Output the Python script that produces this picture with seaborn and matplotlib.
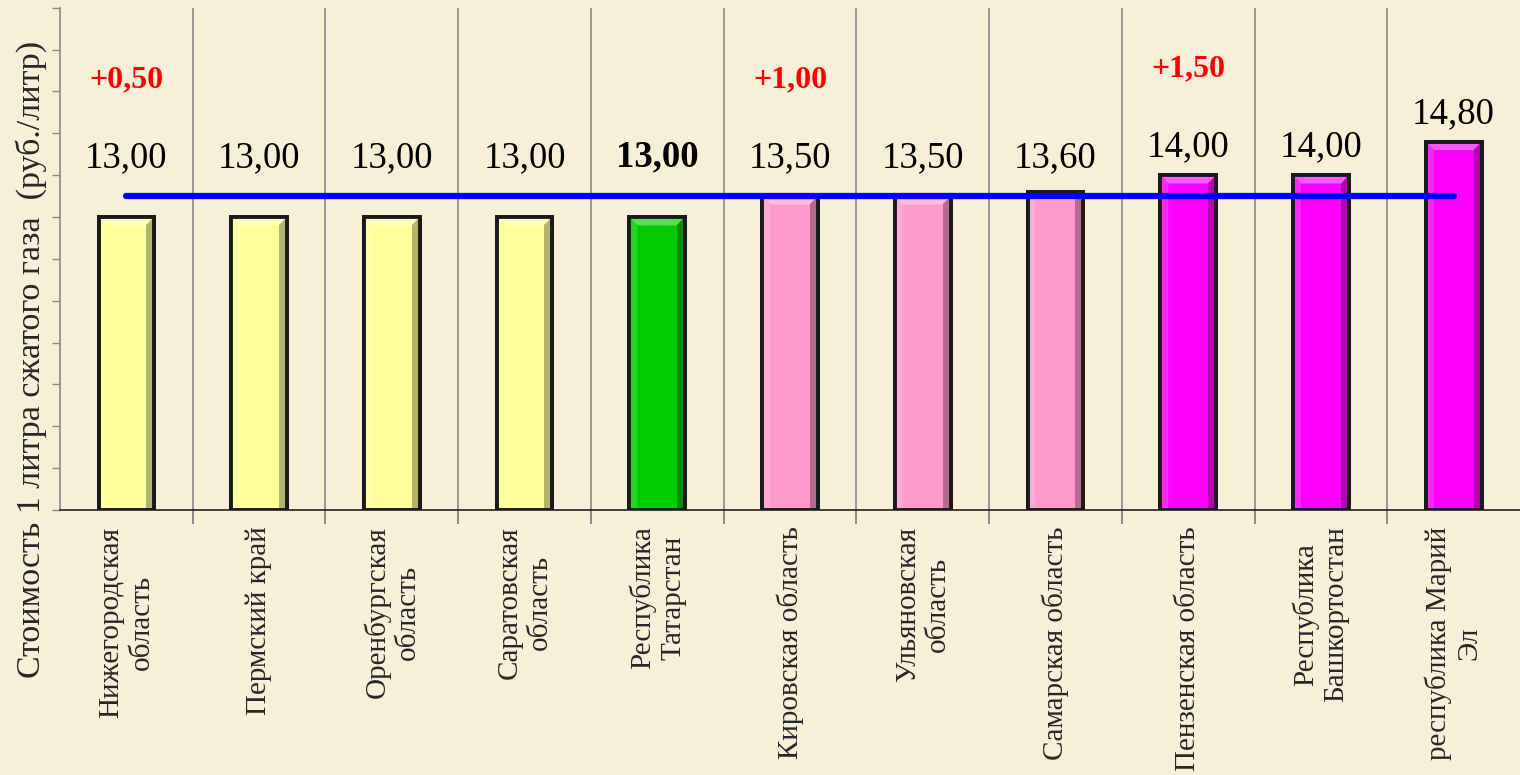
import matplotlib
matplotlib.use('Agg')
import matplotlib.pyplot as plt
from matplotlib.patches import Polygon
from matplotlib.colors import to_rgb
import seaborn as sns
import numpy as np
import pandas as pd

regions = ['Нижегородская\nобласть', 'Пермский край', 'Оренбургская\nобласть',
           'Саратовская\nобласть', 'Республика\nТатарстан', 'Кировская область',
           'Ульяновская\nобласть', 'Самарская область', 'Пензенская область',
           'Республика\nБашкортостан', 'республика Марий\nЭл']
prices = [13.00, 13.00, 13.00, 13.00, 13.00, 13.50, 13.50, 13.60, 14.00, 14.00, 14.80]
home_region = 'Республика\nТатарстан'
delta_idx = [0, 5, 8]
delta_val = [0.50, 1.00, 1.50]

data = pd.DataFrame({'region': regions, 'price': prices})
mean_price = np.mean(prices)

def tier_color(name, p):
    if name == home_region:
        return '#00CC00'
    if p < 13.25:
        return '#FFFF99'
    if p < 13.8:
        return '#FF99CC'
    return '#FF00FF'

colors = [tier_color(r, p) for r, p in zip(regions, prices)]

def mix(c, other, t):
    c = np.array(to_rgb(c))
    return tuple(c * (1 - t) + np.array(other) * t)

sns.set_theme(style='white')
plt.rcParams['font.family'] = ['Liberation Serif', 'DejaVu Serif']
bg = '#F8EFD8'

fig = plt.figure(figsize=(15.2, 7.75), dpi=100, facecolor=bg)
ax = fig.add_axes([0.0395, 0.342, 0.9605, 0.648])
ax.set_facecolor(bg)

sns.barplot(data=data, x='region', y='price', hue='region', palette=colors,
            legend=False, width=0.42, edgecolor='#1a1a1a', linewidth=2.8,
            saturation=1, ax=ax, zorder=3)

ax.set_xlim(-0.5, len(regions) - 0.5)
ax.set_ylim(6, 18)

# bevel look on every bar
bx, by = 0.06, 0.2
for patch, c in zip(ax.patches, colors):
    x0, w, h = patch.get_x(), patch.get_width(), patch.get_height()
    x1, y1, y0 = x0 + w, h, 6.0
    top = [(x0, y1), (x1, y1), (x1 - bx, y1 - by), (x0 + bx, y1 - by)]
    right = [(x1, y1), (x1, y0), (x1 - bx, y0), (x1 - bx, y1 - by)]
    left = [(x0, y1), (x0 + bx, y1 - by), (x0 + bx, y0), (x0, y0)]
    ax.add_patch(Polygon(top, closed=True, facecolor=mix(c, (1, 1, 1), 0.35),
                         edgecolor='none', zorder=3.5))
    ax.add_patch(Polygon(right, closed=True, facecolor=mix(c, (0, 0, 0), 0.3),
                         edgecolor='none', zorder=3.5))
    ax.add_patch(Polygon(left, closed=True, facecolor=mix(c, (1, 1, 1), 0.15),
                         edgecolor='none', zorder=3.5))
    ax.add_patch(plt.Rectangle((x0, y0), w, h - y0, facecolor='none',
                               edgecolor='#1a1a1a', linewidth=2.8, zorder=3.6))

ax.set_yticks(np.arange(6, 19, 1))
ax.set_yticklabels([])
ax.tick_params(axis='y', direction='out', length=6, width=1, color='#888888', left=True)

# category boundaries: gridlines + tick marks
ax.set_xticks(np.arange(0.5, len(regions) - 0.5, 1), minor=True)
ax.tick_params(axis='x', which='minor', direction='out', length=10, width=1.2,
               color='#777777', bottom=True)
ax.tick_params(axis='x', which='major', length=0, pad=12)
ax.grid(True, axis='x', which='minor', color='#8a8a8a', linewidth=1.2, zorder=0)
ax.grid(False, axis='y')
ax.set_xticks(range(len(regions)))
ax.set_xticklabels(regions, rotation=90, ha='center', va='top',
                   multialignment='center', fontsize=21)

for s in ['top', 'right']:
    ax.spines[s].set_visible(False)
ax.spines['left'].set_color('#888888')
ax.spines['left'].set_linewidth(1.2)
ax.spines['bottom'].set_color('#222222')
ax.spines['bottom'].set_linewidth(1.2)

ax.set_xlabel('')
ax.set_ylabel('Стоимость 1 литра сжатого газа  (руб./литр)', fontsize=24.5)
ax.yaxis.set_label_coords(-0.009, 0.30)

# average line
ax.plot([0, len(regions) - 1], [mean_price, mean_price], color='#0000FF',
        linewidth=4.5, solid_capstyle='round', zorder=4)

# value labels
label_y = []
for i, (r, p) in enumerate(zip(regions, prices)):
    y = max(p, 13.75) + 0.45
    label_y.append(y)
    ax.text(i, y, f'{p:.2f}'.replace('.', ','), ha='center', va='baseline',
            fontsize=26.5, color='black',
            fontweight='bold' if r == home_region else 'normal', zorder=5)

for i, d in zip(delta_idx, delta_val):
    ax.text(i, label_y[i] + 1.9, '+' + f'{d:.2f}'.replace('.', ','),
            ha='center', va='baseline', fontsize=23, color='#FF0000',
            fontweight='bold', zorder=5)

fig.savefig('out.png', dpi=100, facecolor=bg)
